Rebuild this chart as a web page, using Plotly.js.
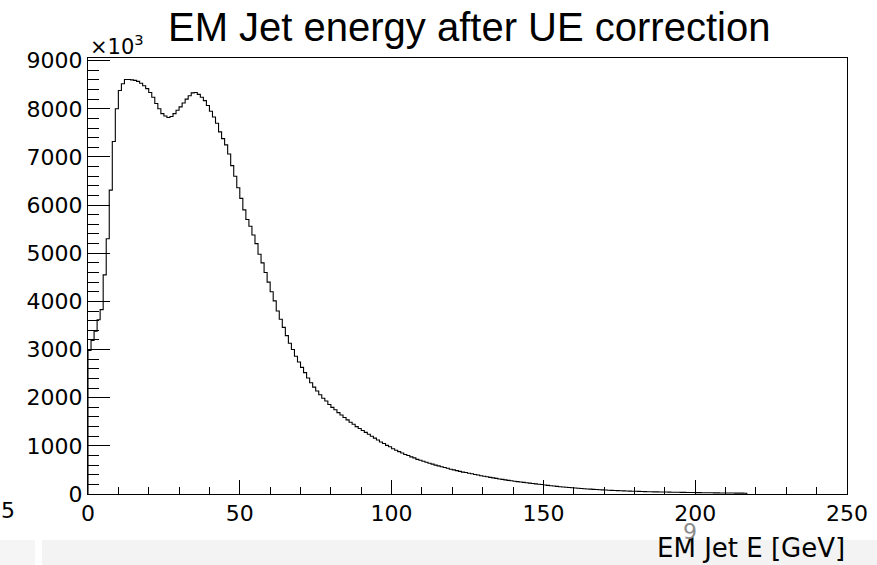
<!DOCTYPE html>
<html>
<head>
<meta charset="utf-8">
<script src="https://cdn.plot.ly/plotly-3.0.1.min.js"></script>
<style>
  html, body { margin: 0; padding: 0; background: #fff; }
  #chart { width: 877px; height: 565px; }
</style>
</head>
<body>
<div id="chart"></div>
<script>
// EM jet energy spectrum after underlying-event correction.
// One entry per 1 GeV bin starting at 0 GeV; contents in units of 10^3 entries.
const binStart = 0;
const binWidth = 1;
const counts = [
  2980, 3190, 3380, 3620, 3830, 4550, 5300, 6310, 7320, 8000,
  8380, 8520, 8610, 8610, 8600, 8590, 8570, 8530, 8480, 8420,
  8340, 8240, 8110, 8000, 7900, 7850, 7820, 7840, 7900, 7970,
  8040, 8120, 8200, 8270, 8330, 8340, 8300, 8240, 8170, 8070,
  7950, 7830, 7700, 7520, 7380, 7250, 7060, 6820, 6600, 6360,
  6140, 5900, 5700, 5560, 5380, 5200, 4980, 4800, 4600, 4400,
  4200, 4010, 3800, 3630, 3460, 3290, 3130, 3000, 2860, 2740,
  2630, 2520, 2410, 2310, 2220, 2140, 2060, 1990, 1930, 1860,
  1800, 1750, 1690, 1640, 1590, 1540, 1490, 1450, 1400, 1360,
  1320, 1280, 1240, 1200, 1160, 1120, 1080, 1050, 1010, 980,
  940, 910, 880, 850, 820, 800, 770, 750, 720, 700,
  680, 660, 640, 620, 600, 585, 565, 550, 535, 515,
  500, 485, 470, 455, 445, 430, 420, 405, 395, 380,
  370, 358, 346, 335, 324, 313, 303, 293, 284, 275,
  266, 257, 249, 241, 233, 225, 218, 210, 203, 196,
  186, 179, 172, 165, 158, 152, 146, 140, 134, 129,
  124, 119, 114, 109, 105, 101, 97, 93, 89, 85,
  82, 79, 76, 73, 70, 67, 64, 62, 60, 58,
  56, 54, 52, 50, 48, 47, 45, 44, 42, 41,
  40, 38, 37, 36, 35, 34, 33, 32, 31, 30,
  29, 28, 27, 26, 25, 25, 24, 23, 22, 22,
  21, 20, 20, 19, 18, 18, 17
];

const xRange = [0, 250];
const yRange = [0, 9055];
const xMajor = 50, xMinor = 10;
const yMajor = 1000, yMinor = 200;

const chartTitle = 'EM Jet energy after UE correction';
const xTitle = 'EM Jet E [GeV]';
const yScaleLabel = '\u00d710<sup>3</sup>';

// Step outline: start at the lower edge on zero, then each bin's content,
// closing back to zero at the upper edge of the last bin.
const stepX = [binStart];
const stepY = [0];
counts.forEach((c, i) => { stepX.push(binStart + i * binWidth); stepY.push(c); });
stepX.push(binStart + counts.length * binWidth);
stepY.push(0);

const trace = {
  type: 'scatter',
  mode: 'lines',
  x: stepX,
  y: stepY,
  line: { shape: 'hv', color: '#000', width: 1.1 },
  hoverinfo: 'skip'
};

const sans = 'DejaVu Sans, Arial, sans-serif';
const tickFont = { family: sans, size: 22, color: '#000' };

const axisCommon = {
  showline: true, linecolor: '#000', linewidth: 1, mirror: true,
  showgrid: false, zeroline: false,
  ticks: 'inside', tickcolor: '#000', tickwidth: 1,
  tickfont: tickFont, tickmode: 'linear', tick0: 0,
  fixedrange: true
};

const layout = {
  width: 877, height: 565,
  margin: { l: 88, r: 30, t: 58, b: 71, pad: 0 },
  paper_bgcolor: '#fff', plot_bgcolor: '#fff',
  showlegend: false,
  title: {
    text: chartTitle,
    font: { family: 'Liberation Sans, Arial, sans-serif', size: 40, color: '#000' },
    x: 0.535, xanchor: 'center', xref: 'container',
    y: 0.952, yanchor: 'middle', yref: 'container'
  },
  xaxis: Object.assign({}, axisCommon, {
    range: xRange, dtick: xMajor, ticklen: 14,
    minor: { ticks: 'inside', dtick: xMinor, ticklen: 7, tickcolor: '#000', tickwidth: 1, showgrid: false }
  }),
  yaxis: Object.assign({}, axisCommon, {
    range: yRange, dtick: yMajor, ticklen: 22, tickformat: 'd',
    minor: { ticks: 'inside', dtick: yMinor, ticklen: 11, tickcolor: '#000', tickwidth: 1, showgrid: false }
  }),
  shapes: [
    { type: 'rect', layer: 'below', xref: 'paper', yref: 'paper', line: { width: 0 },
      fillcolor: '#f3f3f3', x0: -0.0606, x1: 1.04, y0: -0.17, y1: -0.1055 },
    { type: 'rect', layer: 'below', xref: 'paper', yref: 'paper', line: { width: 0 },
      fillcolor: '#f5f5f5', x0: -0.12, x1: -0.0698, y0: -0.17, y1: -0.1055 }
  ],
  annotations: [
    { text: yScaleLabel, xref: 'paper', yref: 'paper', x: 0, y: 1, xanchor: 'left', yanchor: 'bottom',
      yshift: -3, showarrow: false, font: { family: sans, size: 21, color: '#000' } },
    { text: xTitle, xref: 'paper', yref: 'paper', x: 1, y: -0.124, xanchor: 'right', yanchor: 'middle',
      showarrow: false, font: { family: sans, size: 26, color: '#000' } },
    { text: '5', xref: 'paper', yref: 'paper', x: -0.105, y: -0.037, xanchor: 'center', yanchor: 'middle',
      showarrow: false, font: { family: sans, size: 22, color: '#000' } },
    { text: '9', xref: 'paper', yref: 'paper', x: 0.793, y: -0.085, xanchor: 'center', yanchor: 'middle',
      showarrow: false, font: { family: sans, size: 22, color: '#8c8c8c' } }
  ]
};

Plotly.newPlot('chart', [trace], layout, { displayModeBar: false, staticPlot: true });
</script>
</body>
</html>
